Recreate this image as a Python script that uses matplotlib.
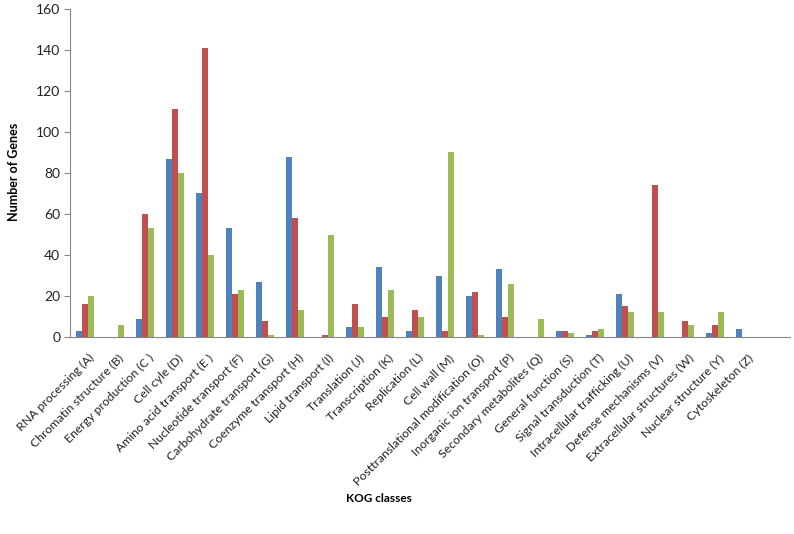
import numpy as np
import matplotlib.pyplot as plt

plt.rcParams['font.family'] = ['Lato', 'DejaVu Sans']

# KOG classes (last slot is an empty category, as in the original sheet)
categories = ['RNA processing (A)', 'Chromatin structure (B)', 'Energy production (C )',
              'Cell cyle (D)', 'Amino acid transport (E )', 'Nucleotide transport (F)',
              'Carbohydrate transport (G)', 'Coenzyme transport (H)', 'Lipid transport (I)',
              'Translation (J)', 'Transcription (K)', 'Replication (L)', 'Cell wall (M)',
              'Posttranslational modification (O)', 'Inorganic ion transport (P)',
              'Secondary metabolites (Q)', 'General function (S)', 'Signal transduction (T)',
              'Intracellular trafficking (U)', 'Defense mechanisms (V)',
              'Extracellular structures (W)', 'Nuclear structure (Y)', 'Cytoskeleton (Z)', '']

series1 = [3, 0, 9, 87, 70, 53, 27, 88, 0, 5, 34, 3, 30, 20, 33, 0, 3, 1, 21, 0, 0, 2, 4, 0]
series2 = [16, 0, 60, 111, 141, 21, 8, 58, 1, 16, 10, 13, 3, 22, 10, 0, 3, 3, 15, 74, 8, 6, 0, 0]
series3 = [20, 6, 53, 80, 40, 23, 1, 13, 50, 5, 23, 10, 90, 1, 26, 9, 2, 4, 12, 12, 6, 12, 0, 0]

colors = ['#4F81BD', '#C0504D', '#9BBB59']

fig = plt.figure(figsize=(7.94, 5.34), dpi=100)
ax = fig.add_axes([70 / 794, 1 - 337 / 534, 720 / 794, 328 / 534])

x = np.arange(len(categories))
w = 0.2
for i, (vals, c) in enumerate(zip([series1, series2, series3], colors)):
    ax.bar(x + (i - 1) * w, vals, width=w, color=c, linewidth=0)

ax.set_xlim(-0.5, len(categories) - 0.5)
ax.set_ylim(0, 160)
ax.set_yticks(range(0, 161, 20))
ax.set_xticks(x + 0.1)
ax.set_xticklabels(categories, rotation=45, ha='right', va='top',
                   rotation_mode='anchor', fontsize=8.8, color='#222222')
ax.tick_params(axis='x', length=0, pad=11)
ax.tick_params(axis='y', length=4, color='#868686', labelsize=10, pad=3,
               labelcolor='#222222')

for s in ['top', 'right']:
    ax.spines[s].set_visible(False)
for s in ['left', 'bottom']:
    ax.spines[s].set_color('#868686')

fig.text(14 / 794, 1 - 172 / 534, 'Number of Genes', rotation=90, fontsize=9,
         fontweight='bold', ha='center', va='center')
fig.text(379 / 794, 1 - 498 / 534, 'KOG classes', fontsize=8.5,
         fontweight='bold', ha='center', va='center')

fig.savefig('out.png', dpi=100)
